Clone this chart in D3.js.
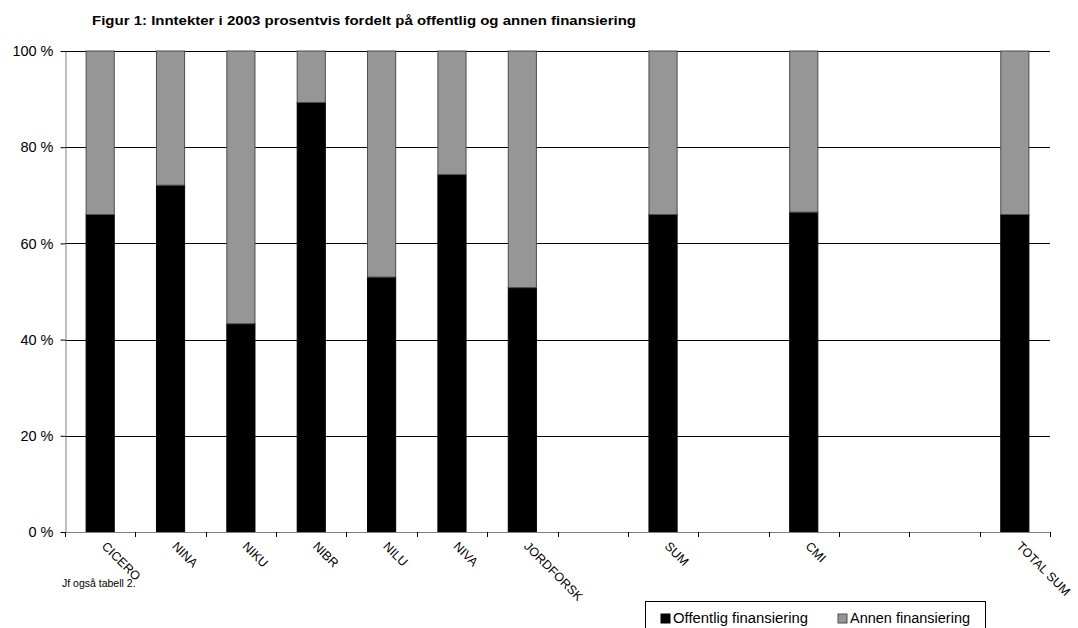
<!DOCTYPE html>
<html>
<head>
<meta charset="utf-8">
<script src="https://cdn.jsdelivr.net/npm/d3@7"></script>
<style>
  html, body { margin: 0; padding: 0; background: #fff; }
  svg { display: block; font-family: "Liberation Sans", Arial, sans-serif; }
</style>
</head>
<body>
<svg id="chart" width="1078" height="628"></svg>
<script>
// Category slots along the x axis (empty strings are blank slots)
const categories = ["CICERO", "NINA", "NIKU", "NIBR", "NILU", "NIVA", "JORDFORSK", "", "SUM", "", "CMI", "", "", "TOTAL SUM"];
// Share of income from public funding, percent (null = no bar)
const offentlig = [66.0, 72.1, 43.3, 89.3, 53.0, 74.3, 50.8, null, 66.0, null, 66.5, null, null, 66.0];
// Share from other funding, percent
const annen = [34.0, 27.9, 56.7, 10.7, 47.0, 25.7, 49.2, null, 34.0, null, 33.5, null, null, 34.0];
const yTicks = [0, 20, 40, 60, 80, 100];
const seriesNames = ["Offentlig finansiering", "Annen finansiering"];
const seriesColors = ["#000000", "#969696"];
const seriesStroke = ["#000000", "#4d4d4d"];

const svg = d3.select("#chart");
const plotLeft = 65, plotRight = 1050, plotTop = 51, plotBottom = 532;

const x = d3.scaleBand().domain(d3.range(categories.length)).range([plotLeft, plotRight]).paddingInner(0.6).paddingOuter(0.3);
const slot = d3.scaleLinear().domain([0, categories.length]).range([plotLeft, plotRight]);
const y = d3.scaleLinear().domain([0, 100]).range([plotBottom, plotTop]);

// Title
svg.append("text")
  .attr("x", 92).attr("y", 25)
  .attr("font-size", 13).attr("font-weight", "bold")
  .attr("textLength", 544).attr("lengthAdjust", "spacingAndGlyphs")
  .text("Figur 1: Inntekter i 2003 prosentvis fordelt på offentlig og annen finansiering");

// Horizontal gridlines
svg.append("g").selectAll("line").data(yTicks.filter(d => d > 0)).join("line")
  .attr("x1", plotLeft).attr("x2", plotRight)
  .attr("y1", d => Math.round(y(d)) + 0.5).attr("y2", d => Math.round(y(d)) + 0.5)
  .attr("stroke", "#000").attr("stroke-width", 1);

// Stacked bars
const stackData = categories.map((c, i) => ({ i, a: offentlig[i], b: annen[i] })).filter(d => d.a !== null);
const bars = svg.append("g");
bars.selectAll("rect.off").data(stackData).join("rect")
  .attr("class", "off")
  .attr("x", d => x(d.i)).attr("width", x.bandwidth())
  .attr("y", d => y(d.a)).attr("height", d => y(0) - y(d.a))
  .attr("fill", seriesColors[0]).attr("stroke", seriesStroke[0]).attr("stroke-width", 1);
bars.selectAll("rect.ann").data(stackData).join("rect")
  .attr("class", "ann")
  .attr("x", d => x(d.i)).attr("width", x.bandwidth())
  .attr("y", d => y(d.a + d.b)).attr("height", d => y(d.a) - y(d.a + d.b))
  .attr("fill", seriesColors[1]).attr("stroke", seriesStroke[1]).attr("stroke-width", 1);

// Y axis
const yAxis = svg.append("g").attr("transform", `translate(${plotLeft + 0.5},0)`)
  .call(d3.axisLeft(y).tickValues(yTicks).tickSize(5).tickSizeOuter(0).tickFormat(d => d + " %"));
yAxis.select(".domain").attr("stroke", "#808080");
yAxis.selectAll(".tick line").attr("stroke", "#000");
yAxis.selectAll(".tick text").attr("font-size", 14.5).attr("fill", "#000").attr("x", -12)
  .attr("font-family", "Liberation Sans, Arial, sans-serif");

// X axis baseline and slot ticks
svg.append("line").attr("x1", plotLeft).attr("x2", plotRight)
  .attr("y1", plotBottom + 0.5).attr("y2", plotBottom + 0.5).attr("stroke", "#808080");
svg.append("g").selectAll("line").data(d3.range(categories.length + 1)).join("line")
  .attr("x1", d => Math.round(slot(d)) + 0.5).attr("x2", d => Math.round(slot(d)) + 0.5)
  .attr("y1", plotBottom).attr("y2", plotBottom + 5).attr("stroke", "#000");

// Category labels, rotated
svg.append("g").selectAll("text").data(categories.map((c, i) => ({ c, i })).filter(d => d.c)).join("text")
  .attr("transform", d => `translate(${x(d.i) + x.bandwidth() / 2 + 4},${plotBottom + 12}) rotate(45)`)
  .attr("font-size", 12.5).attr("dy", "0.35em")
  .text(d => d.c);

// Footnote
svg.append("text").attr("x", 62).attr("y", 587).attr("font-size", 10.5).text("Jf også tabell 2.");

// Legend
const lg = svg.append("g");
lg.append("rect").attr("x", 645.5).attr("y", 601.5).attr("width", 340).attr("height", 36)
  .attr("fill", "#fff").attr("stroke", "#000");
const legendX = [661, 838];
const legendLen = [135, 120];
const items = lg.selectAll("g").data(seriesNames).join("g")
  .attr("transform", (d, i) => `translate(${legendX[i]},${614})`);
items.append("rect").attr("width", 9).attr("height", 9)
  .attr("fill", (d, i) => seriesColors[i]).attr("stroke", (d, i) => seriesStroke[i]);
items.append("text").attr("x", 12).attr("y", 4.5).attr("dy", "0.35em").attr("font-size", 14)
  .attr("textLength", (d, i) => legendLen[i]).attr("lengthAdjust", "spacingAndGlyphs")
  .text(d => d);
</script>
</body>
</html>
